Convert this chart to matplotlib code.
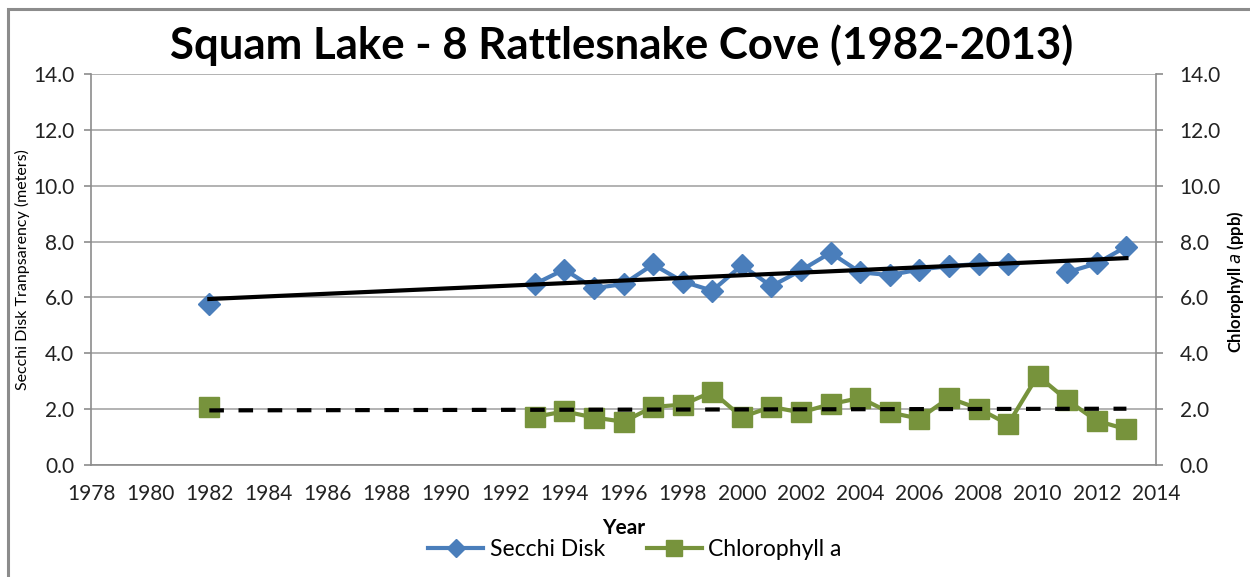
import numpy as np
import matplotlib
matplotlib.use("Agg")
import matplotlib.pyplot as plt
from matplotlib.patches import Rectangle

years = list(range(1982, 2014))
nan = np.nan
secchi = [5.76, nan, nan, nan, nan, nan, nan, nan, nan, nan, nan,
          6.48, 7.0, 6.33, 6.48, 7.18, 6.57, 6.24, 7.15, 6.4, 6.97,
          7.6, 6.9, 6.8, 7.0, 7.12, 7.2, 7.2, nan, 6.9, 7.22, 7.82]
chl = [2.06, nan, nan, nan, nan, nan, nan, nan, nan, nan, nan,
       1.72, 1.92, 1.7, 1.55, 2.08, 2.16, 2.62, 1.72, 2.08, 1.88,
       2.18, 2.4, 1.88, 1.66, 2.4, 2.02, 1.46, 3.2, 2.32, 1.58, 1.28]

title = "Squam Lake - 8 Rattlesnake Cove (1982-2013)"
xticks = list(range(1978, 2015, 2))
yticks = [0, 2, 4, 6, 8, 10, 12, 14]

plt.rcParams['font.family'] = ['Lato', 'DejaVu Sans']

W, H = 1250, 577
fig = plt.figure(figsize=(W / 100, H / 100), dpi=100)
fig.patch.set_facecolor('white')
fig.add_artist(Rectangle((8 / W, 0 - 0.1), 1.2, (H - 9) / H + 0.1, transform=fig.transFigure,
                         fill=False, edgecolor='#8c8c8c', linewidth=2.2))

ax = fig.add_axes([91 / W, (H - 465) / H, (1156 - 91) / W, (465 - 74) / H])
ax.set_xlim(1978, 2014)
ax.set_ylim(0, 14)
ax.set_xticks(xticks)
ax.set_yticks(yticks)
ax.set_yticklabels([f"{v:.1f}" for v in yticks])
ax.grid(axis='y', color='#a6a6a6', linewidth=1.2)
ax.set_axisbelow(True)
ax.spines['top'].set_visible(False)
for s in ['left', 'bottom', 'right']:
    ax.spines[s].set_color('#8c8c8c')
    ax.spines[s].set_linewidth(1.2)
ax.tick_params(axis='both', colors='#8c8c8c', labelcolor='#222222', labelsize=15, length=5, width=1.2)
ax.tick_params(axis='y', pad=7)
ax.tick_params(axis='x', length=0, pad=14)

yrs = np.array(years, dtype=float)
sec = np.array(secchi, dtype=float)
ch = np.array(chl, dtype=float)

l1, = ax.plot(yrs, sec, color='#4A7EBB', linewidth=3, marker='D', markersize=11,
              label='Secchi Disk', zorder=3)
l2, = ax.plot(yrs, ch, color='#77933C', linewidth=3, marker='s', markersize=14,
              label='Chlorophyll a', zorder=3)

m1 = ~np.isnan(sec)
m2 = ~np.isnan(ch)
p1 = np.polyfit(yrs[m1], sec[m1], 1)
p2 = np.polyfit(yrs[m2], ch[m2], 1)
xt = np.array([1982, 2013], dtype=float)
ax.plot(xt, np.polyval(p1, xt), color='black', linewidth=3, zorder=4)
ax.plot(xt, np.polyval(p2, xt), color='black', linewidth=3, dashes=(3.5, 3.5), zorder=4)

ax.set_xlabel('Year', fontsize=15, fontweight='bold', labelpad=10)

ax2 = ax.twinx()
ax2.set_ylim(0, 14)
ax2.set_yticks(yticks)
ax2.set_yticklabels([f"{v:.1f}" for v in yticks])
for s in ['top', 'left', 'bottom', 'right']:
    ax2.spines[s].set_visible(False)
ax2.tick_params(axis='y', colors='#8c8c8c', labelcolor='#222222', labelsize=15, length=5, width=1.2, pad=12)

fig.text(22 / W, (H - 270) / H, 'Secchi Disk Tranpsarency (meters)', rotation=90,
         ha='center', va='center', fontsize=11.5)
fig.text(1236 / W, (H - 282) / H, r'Chlorophyll $\mathbf{\it{a}}$ (ppb)', rotation=90,
         ha='center', va='center', fontsize=12, fontweight='bold')

fig.text(0.497, (H - 45) / H, title, ha='center', va='center', fontsize=31.5, fontweight='bold')

fig.legend(handles=[l1, l2], loc='center', bbox_to_anchor=(0.508, (H - 550) / H), ncol=2,
           frameon=False, fontsize=16.5, handlelength=2.4, columnspacing=1.8,
           handletextpad=0.3, markerscale=0.85)

fig.savefig('out.png', dpi=100)
